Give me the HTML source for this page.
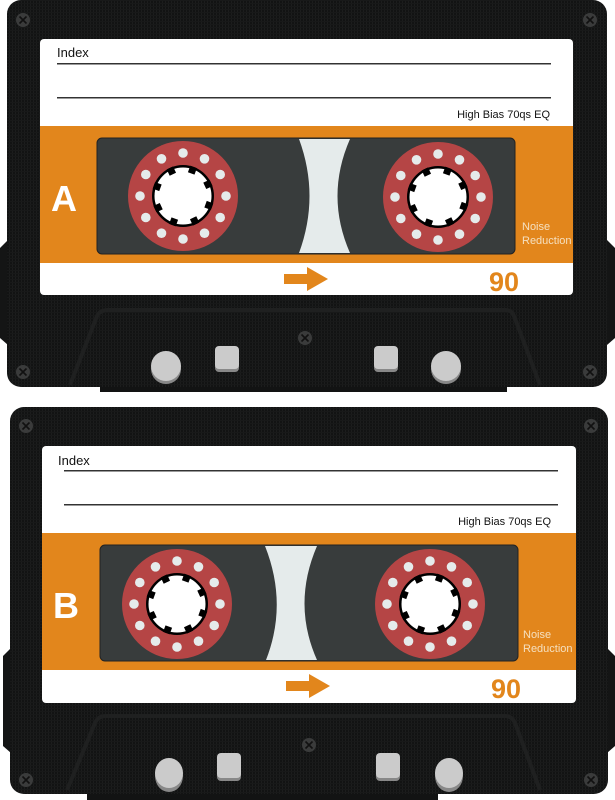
<!DOCTYPE html>
<html><head><meta charset="utf-8"><style>
html,body{margin:0;padding:0;background:#fff;width:615px;height:800px;overflow:hidden}
svg{display:block}
text{font-family:"Liberation Sans",Arial,sans-serif}
</style></head><body>
<svg width="615" height="800" viewBox="0 0 615 800" xmlns="http://www.w3.org/2000/svg">
<defs>
<pattern id="grid" width="3" height="3" patternUnits="userSpaceOnUse">
<rect width="3" height="3" fill="#121313"/><rect width="1" height="3" fill="#1c1d1d"/><rect width="3" height="1" fill="#181919"/>
</pattern>
<g id="screw"><circle r="7" fill="#3a3b3b"/><path d="M-3.5,-3.5L3.5,3.5M3.5,-3.5L-3.5,3.5" stroke="#111" stroke-width="1.6"/></g>
<g id="reel">
<circle r="55" fill="#b54545"/>
<g fill="#e5ebeb">
<circle cx="0" cy="-43" r="4.8"/><circle cx="21.5" cy="-37.2" r="4.8"/><circle cx="37.2" cy="-21.5" r="4.8"/><circle cx="43" cy="0" r="4.8"/><circle cx="37.2" cy="21.5" r="4.8"/><circle cx="21.5" cy="37.2" r="4.8"/><circle cx="0" cy="43" r="4.8"/><circle cx="-21.5" cy="37.2" r="4.8"/><circle cx="-37.2" cy="21.5" r="4.8"/><circle cx="-43" cy="0" r="4.8"/><circle cx="-37.2" cy="-21.5" r="4.8"/><circle cx="-21.5" cy="-37.2" r="4.8"/>
</g>
<circle r="31" fill="#000"/><circle r="28.5" fill="#fff"/>
<g fill="#000">
<rect x="-3.5" y="-31" width="7" height="7" transform="rotate(20)"/>
<rect x="-3.5" y="-31" width="7" height="7" transform="rotate(65)"/>
<rect x="-3.5" y="-31" width="7" height="7" transform="rotate(110)"/>
<rect x="-3.5" y="-31" width="7" height="7" transform="rotate(155)"/>
<rect x="-3.5" y="-31" width="7" height="7" transform="rotate(200)"/>
<rect x="-3.5" y="-31" width="7" height="7" transform="rotate(245)"/>
<rect x="-3.5" y="-31" width="7" height="7" transform="rotate(290)"/>
<rect x="-3.5" y="-31" width="7" height="7" transform="rotate(335)"/>
</g>
</g>
</defs>

<!-- ===== Cassette A ===== -->
<g>
<path d="M0,248 L8,240 L8,345 L0,338Z" fill="#141515"/>
<path d="M615,248 L607,240 L607,345 L615,338Z" fill="#141515"/>
<rect x="7" y="0" width="600" height="387" rx="14" fill="url(#grid)"/>
<path d="M100,387 L100,392 L507,392 L507,387Z" fill="#121313"/>
<path d="M70,385 L97,316 Q100,310 108,310 L505,310 Q512,310 514,316 L540,385" fill="none" stroke="#1f2020" stroke-width="4"/>
<use href="#screw" x="23" y="20"/><use href="#screw" x="590" y="20"/>
<use href="#screw" x="23" y="372"/><use href="#screw" x="590" y="372"/>
<use href="#screw" x="305" y="338"/>
<rect x="40" y="39" width="533" height="256" rx="4" fill="#fff"/>
<text x="57" y="57" font-size="13" fill="#111">Index</text>
<rect x="57" y="63" width="494" height="1.5" fill="#333"/>
<rect x="57" y="97" width="494" height="1.5" fill="#333"/>
<text x="550" y="118" font-size="11" fill="#111" text-anchor="end">High Bias 70qs EQ</text>
<rect x="40" y="126" width="533" height="137" fill="#e2861c"/>
<rect x="97" y="138" width="418" height="116" rx="5" fill="#383c3c" stroke="#222" stroke-width="1"/>
<path d="M299,139 L350,139 Q325,196 350,253 L299,253 Q320,196 299,139Z" fill="#e5ebeb"/>
<use href="#reel" x="183" y="196"/>
<use href="#reel" x="438" y="197"/>
<text x="64" y="211" font-size="36" font-weight="bold" fill="#fff" text-anchor="middle">A</text>
<text x="522" y="230" font-size="11" fill="#f5e0c0">Noise</text>
<text x="522" y="244" font-size="11" fill="#f5e0c0">Reduction</text>
<path d="M284,274 L307,274 L307,267 L328,279 L307,291 L307,284 L284,284Z" fill="#e2861c"/>
<text x="504" y="291" font-size="27" font-weight="bold" fill="#e2861c" text-anchor="middle">90</text>
<ellipse cx="166" cy="369" rx="15" ry="15" fill="#888"/><ellipse cx="166" cy="366" rx="15" ry="15" fill="#cbcbcb"/>
<ellipse cx="446" cy="369" rx="15" ry="15" fill="#888"/><ellipse cx="446" cy="366" rx="15" ry="15" fill="#cbcbcb"/>
<rect x="215" y="348" width="24" height="24" rx="4" fill="#888"/><rect x="215" y="346" width="24" height="23" rx="4" fill="#cbcbcb"/>
<rect x="374" y="348" width="24" height="24" rx="4" fill="#888"/><rect x="374" y="346" width="24" height="23" rx="4" fill="#cbcbcb"/>
</g>

<!-- ===== Cassette B ===== -->
<g>
<path d="M3,656 L11,648 L11,753 L3,746Z" fill="#141515"/>
<path d="M615,656 L607,648 L607,753 L615,746Z" fill="#141515"/>
<rect x="10" y="407" width="598" height="387" rx="14" fill="url(#grid)"/>
<path d="M87,794 L87,800 L438,800 L438,794Z" fill="#121313"/>
<path d="M67,790 L95,723 Q98,716 106,716 L430,716 L505,716 Q512,716 515,723 L540,790" fill="none" stroke="#1f2020" stroke-width="4"/>
<use href="#screw" x="26" y="426"/><use href="#screw" x="591" y="426"/>
<use href="#screw" x="26" y="780"/><use href="#screw" x="591" y="780"/>
<use href="#screw" x="309" y="745"/>
<rect x="42" y="446" width="534" height="257" rx="4" fill="#fff"/>
<text x="58" y="465" font-size="13" fill="#111">Index</text>
<rect x="64" y="470" width="494" height="1.5" fill="#333"/>
<rect x="64" y="504" width="494" height="1.5" fill="#333"/>
<text x="551" y="525" font-size="11" fill="#111" text-anchor="end">High Bias 70qs EQ</text>
<rect x="42" y="533" width="534" height="137" fill="#e2861c"/>
<rect x="100" y="545" width="418" height="116" rx="5" fill="#383c3c" stroke="#222" stroke-width="1"/>
<path d="M265,546 L317,546 Q292,604 317,660 L266,660 Q288,604 265,546Z" fill="#e5ebeb"/>
<use href="#reel" x="177" y="604"/>
<use href="#reel" x="430" y="604"/>
<text x="66" y="618" font-size="36" font-weight="bold" fill="#fff" text-anchor="middle">B</text>
<text x="523" y="638" font-size="11" fill="#f5e0c0">Noise</text>
<text x="523" y="652" font-size="11" fill="#f5e0c0">Reduction</text>
<path d="M286,681 L309,681 L309,674 L330,686 L309,698 L309,691 L286,691Z" fill="#e2861c"/>
<text x="506" y="698" font-size="27" font-weight="bold" fill="#e2861c" text-anchor="middle">90</text>
<ellipse cx="169" cy="776" rx="14" ry="16" fill="#888"/><ellipse cx="169" cy="773" rx="14" ry="15" fill="#cbcbcb"/>
<ellipse cx="449" cy="776" rx="14" ry="16" fill="#888"/><ellipse cx="449" cy="773" rx="14" ry="15" fill="#cbcbcb"/>
<rect x="217" y="755" width="24" height="26" rx="4" fill="#888"/><rect x="217" y="753" width="24" height="25" rx="4" fill="#cbcbcb"/>
<rect x="376" y="755" width="24" height="26" rx="4" fill="#888"/><rect x="376" y="753" width="24" height="25" rx="4" fill="#cbcbcb"/>
</g>
</svg>
</body></html>
